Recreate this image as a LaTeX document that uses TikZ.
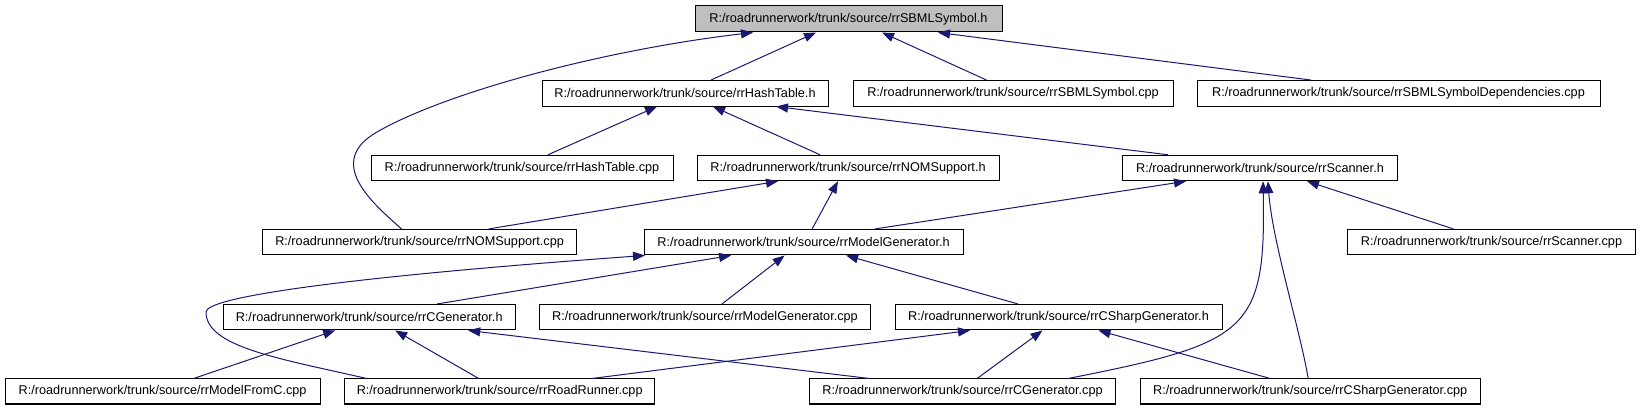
\documentclass[tikz,border=0pt]{standalone}
\usepackage{fontspec}
\setmainfont{Liberation Sans}
\usetikzlibrary{arrows.meta}
\definecolor{edgeblue}{HTML}{191970}
\definecolor{topgray}{HTML}{BFBFBF}
\newcommand{\nodefont}{\fontsize{12.7}{14}\selectfont}
\tikzset{
  fbox/.style={draw=black, line width=1pt, fill=white, inner sep=0pt, font=\nodefont},
  topbox/.style={fbox, fill=topgray},
  edge/.style={draw=edgeblue, line width=1pt, {Triangle[length=12pt,width=9pt,fill=edgeblue]}-}
}
\begin{document}
\begin{tikzpicture}[x=1pt,y=-1pt]
\useasboundingbox (0,0) rectangle (1641,411);
\fill[white] (0,0) rectangle (1641,411);
% row 1
\node[topbox, minimum width=307pt, minimum height=26pt] (sym_h) at (848.5,19) {R:/roadrunnerwork/trunk/source/rrSBMLSymbol.h};
% row 2
\node[fbox, minimum width=286pt, minimum height=25.5pt] (hash_h) at (685,93.3) {R:/roadrunnerwork/trunk/source/rrHashTable.h};
\node[fbox, minimum width=320pt, minimum height=25.5pt] (sym_cpp) at (1013,93.3) {R:/roadrunnerwork/trunk/source/rrSBMLSymbol.cpp};
\node[fbox, minimum width=403pt, minimum height=25.5pt] (symdep_cpp) at (1398.5,93.3) {R:/roadrunnerwork/trunk/source/rrSBMLSymbolDependencies.cpp};
% row 3
\node[fbox, minimum width=302pt, minimum height=25.5pt] (hash_cpp) at (522,168) {R:/roadrunnerwork/trunk/source/rrHashTable.cpp};
\node[fbox, minimum width=302pt, minimum height=25.5pt] (nom_h) at (848,168) {R:/roadrunnerwork/trunk/source/rrNOMSupport.h};
\node[fbox, minimum width=275pt, minimum height=25.5pt] (scan_h) at (1260,168) {R:/roadrunnerwork/trunk/source/rrScanner.h};
% row 4
\node[fbox, minimum width=314pt, minimum height=25.5pt] (nom_cpp) at (419.6,242.2) {R:/roadrunnerwork/trunk/source/rrNOMSupport.cpp};
\node[fbox, minimum width=319pt, minimum height=25.5pt] (mg_h) at (803.6,242.2) {R:/roadrunnerwork/trunk/source/rrModelGenerator.h};
\node[fbox, minimum width=288.5pt, minimum height=25.5pt] (scan_cpp) at (1491.5,242.2) {R:/roadrunnerwork/trunk/source/rrScanner.cpp};
% row 5
\node[fbox, minimum width=292pt, minimum height=25.5pt] (cg_h) at (369.2,317.2) {R:/roadrunnerwork/trunk/source/rrCGenerator.h};
\node[fbox, minimum width=331.6pt, minimum height=25.5pt] (mg_cpp) at (705,317.2) {R:/roadrunnerwork/trunk/source/rrModelGenerator.cpp};
\node[fbox, minimum width=327pt, minimum height=25.5pt] (csg_h) at (1058.5,317.2) {R:/roadrunnerwork/trunk/source/rrCSharpGenerator.h};
% row 6
\node[fbox, minimum width=315pt, minimum height=25pt] (mfc_cpp) at (162.6,391.5) {R:/roadrunnerwork/trunk/source/rrModelFromC.cpp};
\node[fbox, minimum width=310pt, minimum height=25pt] (rr_cpp) at (499.7,391.5) {R:/roadrunnerwork/trunk/source/rrRoadRunner.cpp};
\node[fbox, minimum width=306pt, minimum height=25pt] (cg_cpp) at (962.6,391.5) {R:/roadrunnerwork/trunk/source/rrCGenerator.cpp};
\node[fbox, minimum width=339.6pt, minimum height=25pt] (csg_cpp) at (1310.2,391.5) {R:/roadrunnerwork/trunk/source/rrCSharpGenerator.cpp};

% edges (arrow at the included header)
\draw[edge] ([xshift=-32.5pt]sym_h.south) -- ([xshift=26pt]hash_h.north);
\draw[edge] ([xshift=33.5pt]sym_h.south) -- ([xshift=-26.5pt]sym_cpp.north);
\draw[edge] ([xshift=89.5pt]sym_h.south) -- ([xshift=-87.5pt]symdep_cpp.north);
\draw[edge] ([xshift=-95.5pt]sym_h.south) .. controls (604,49.9) and (446.6,92) .. (377,132)
   .. controls (324.8,162) and (371.7,202.6) .. ([xshift=-18pt]nom_cpp.north);
\draw[edge] ([xshift=-28pt]hash_h.south) -- ([xshift=26pt]hash_cpp.north);
\draw[edge] ([xshift=28pt]hash_h.south) -- ([xshift=-28pt]nom_h.north);
\draw[edge] ([xshift=91pt]hash_h.south) -- ([xshift=-92pt]scan_h.north);
\draw[edge] ([xshift=-70pt]nom_h.south) -- ([xshift=69pt]nom_cpp.north);
\draw[edge] ([xshift=-10pt]nom_h.south) -- ([xshift=8.5pt]mg_h.north);
\draw[edge] ([xshift=-74pt]scan_h.south) -- ([xshift=71.4pt]mg_h.north);
\draw[edge] ([xshift=47pt]scan_h.south) -- ([xshift=-38pt]scan_cpp.north);
\draw[edge] ([xshift=3pt]scan_h.south) .. controls (1266,332) and (1248,343) .. ([xshift=105.5pt]cg_cpp.north);
\draw[edge] ([xshift=8pt]scan_h.south) .. controls (1272,240) and (1300,330) .. ([xshift=-2pt]csg_cpp.north);
\draw[edge] ([xshift=-158.6pt]mg_h.south) .. controls (346,277) and (206,297) .. (206,312)
   .. controls (206,347) and (279.4,358.5) .. ([xshift=-133pt]rr_cpp.north);
\draw[edge] ([xshift=-72.5pt]mg_h.south) -- ([xshift=68pt]cg_h.north);
\draw[edge] ([xshift=-19pt]mg_h.south) -- ([xshift=17pt]mg_cpp.north);
\draw[edge] ([xshift=42.5pt]mg_h.south) -- ([xshift=-40.6pt]csg_h.north);
\draw[edge] ([xshift=-34pt]cg_h.south) -- ([xshift=31pt]mfc_cpp.north);
\draw[edge] ([xshift=26pt]cg_h.south) -- ([xshift=-21pt]rr_cpp.north);
\draw[edge] ([xshift=99pt]cg_h.south) -- ([xshift=-93pt]cg_cpp.north);
\draw[edge] ([xshift=-88.5pt]csg_h.south) -- ([xshift=92pt]rr_cpp.north);
\draw[edge] ([xshift=-16pt]csg_h.south) -- ([xshift=14.5pt]cg_cpp.north);
\draw[edge] ([xshift=40pt]csg_h.south) -- ([xshift=-40pt]csg_cpp.north);
\end{tikzpicture}
\end{document}
